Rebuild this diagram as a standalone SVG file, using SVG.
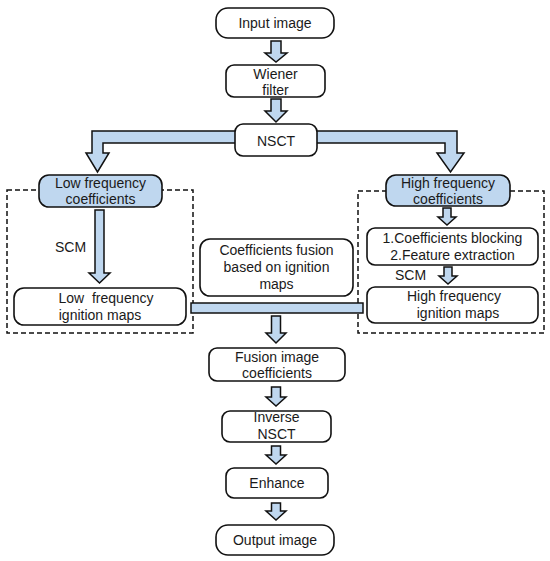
<svg xmlns="http://www.w3.org/2000/svg" width="550" height="561" viewBox="0 0 550 561">
<style>
.box{fill:#fff;stroke:#111;stroke-width:1.6}
.blue{fill:#bfd7ef;stroke:#111;stroke-width:1.6}
.dash{fill:none;stroke:#111;stroke-width:1.5;stroke-dasharray:5 3}
.arr{fill:#bfd7ef;stroke:#111;stroke-width:1.5;stroke-linejoin:miter}
text{font-family:"Liberation Sans",Arial,sans-serif;font-size:14px;fill:#1a1a1a;text-anchor:middle;white-space:pre}
.l{text-anchor:start}
</style>
<rect width="550" height="561" fill="#fff"/>
<g id="groups">
<rect class="dash" x="7" y="190" width="186" height="143"/>
<rect class="dash" x="358" y="191" width="186" height="142"/>
</g>
<g id="connectors">
<path class="arr" d="M271 41H281V53H287L276 62L265 53H271Z"/>
<path class="arr" d="M271 99H281V111H287L276 122L265 111H271Z"/>
<path class="arr" d="M92 131H457V153H464L450.5 172L437 153H445V143H103V153H109L97.5 172L86 153H92Z"/>
<path class="arr" d="M95 210H104V273H110L99.5 283L89 273H95Z"/>
<path class="arr" d="M443 208H451V217H456L447 225L438 217H443Z"/>
<path class="arr" d="M444 267H452V276H457L448 284L439 276H444Z"/>
<rect class="arr" x="191" y="303" width="172" height="10"/>
<path class="arr" d="M271.5 316H280.5V333H286L276 343L266 333H271.5Z"/>
<path class="arr" d="M271.5 387H280.5V397H286L276 406L266 397H271.5Z"/>
<path class="arr" d="M271.5 446H280.5V455H286L276 464L266 455H271.5Z"/>
<path class="arr" d="M271.5 503H280.5V511H286L276 520L266 511H271.5Z"/>
</g>
<g id="input"><rect class="box" x="216" y="8" width="118" height="30" rx="12"/><text x="275" y="28">Input image</text></g>
<g id="wiener"><rect class="box" x="226" y="65" width="99" height="32" rx="8"/><text x="275.5" y="79">Wiener</text><text x="275.5" y="95">filter</text></g>
<g id="nsct"><rect class="box" x="235" y="124" width="82" height="32" rx="8"/><text x="276" y="145.5">NSCT</text></g>
<g id="lowcoef"><rect class="blue" x="39" y="175" width="123" height="32" rx="10"/><text x="100.5" y="187.5">Low frequency</text><text x="100.5" y="204">coefficients</text></g>
<g id="scm1"><text class="l" x="55" y="252">SCM</text></g>
<g id="lowign"><rect class="box" x="14" y="288" width="172" height="37" rx="10"/><text x="106" y="303">Low  frequency</text><text x="100" y="320">ignition maps</text></g>
<g id="fusion"><rect class="box" x="200" y="239" width="153" height="57" rx="10"/><text x="276.5" y="255">Coefficients fusion</text><text x="276.5" y="272">based on ignition</text><text x="276.5" y="289">maps</text></g>
<g id="highcoef"><rect class="blue" x="386" y="175" width="124" height="31" rx="10"/><text x="448" y="187.5">High frequency</text><text x="448" y="204">coefficients</text></g>
<g id="blocking"><rect class="box" x="367" y="228" width="171" height="37" rx="8"/><text x="452.5" y="243">1.Coefficients blocking</text><text x="452.5" y="260">2.Feature extraction</text></g>
<g id="scm2"><text class="l" x="395" y="279.5">SCM</text></g>
<g id="highign"><rect class="box" x="367" y="287" width="171" height="36" rx="8"/><text x="454" y="300.5">High frequency</text><text x="458" y="318">ignition maps</text></g>
<g id="fusionimg"><rect class="box" x="209" y="348" width="136" height="33" rx="8"/><text x="277" y="362">Fusion image</text><text x="277" y="377.5">coefficients</text></g>
<g id="inverse"><rect class="box" x="222" y="411" width="109" height="31" rx="8"/><text x="276.5" y="422">Inverse</text><text x="276.5" y="439">NSCT</text></g>
<g id="enhance"><rect class="box" x="226" y="468" width="102" height="30" rx="8"/><text x="277" y="487.5">Enhance</text></g>
<g id="output"><rect class="box" x="216" y="525" width="118" height="30" rx="12"/><text x="275" y="544.5">Output image</text></g>
</svg>
